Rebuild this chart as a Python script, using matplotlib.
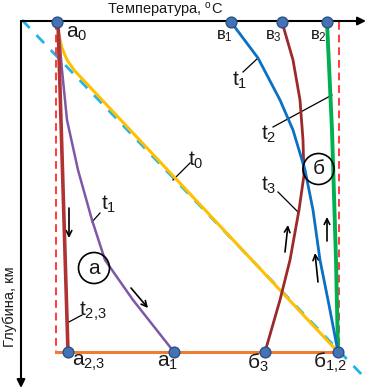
import matplotlib
matplotlib.use("Agg")
import matplotlib.pyplot as plt
from matplotlib.patches import Circle

plt.rcParams['font.family'] = ['Liberation Sans', 'DejaVu Sans']
plt.rcParams['mathtext.fontset'] = 'custom'
plt.rcParams['mathtext.rm'] = 'Liberation Sans'
plt.rcParams['mathtext.it'] = 'Liberation Sans'

# Schematic coordinates: temperature position (x), depth position (y, grows downward)
t0_x = [57, 59, 62, 67, 74, 338]
t0_y = [22, 35, 48, 60, 70, 352]
t23_left_x = [58, 68]
t23_left_y = [22, 352]
t1_left_x = [58, 62, 67, 78, 92, 105, 133, 174]
t1_left_y = [22, 70, 120, 170, 220, 260, 300, 352]
t1_right_x = [231, 258, 280, 293, 305, 313, 320, 329, 338]
t1_right_y = [22, 58, 100, 130, 170, 210, 260, 305, 352]
t3_right_x = [282, 293, 300, 303, 304, 299, 290, 280, 265]
t3_right_y = [22, 60, 100, 140, 175, 210, 260, 300, 352]
t2_right_x = [327, 332, 336, 338]
t2_right_y = [22, 130, 260, 352]
bottom_x = [56, 338]
bottom_y = [352, 352]
geotherm_x = [22, 365]
geotherm_y = [20, 378]

top_pts_x = [57, 231, 282, 327]
bot_pts_x = [68, 174, 265, 338]
top_y = 22
bot_y = 352

fig = plt.figure(figsize=(3.73, 3.92), dpi=100)
ax = fig.add_axes([0, 0, 1, 1])
ax.set_xlim(0, 373)
ax.set_ylim(392, 0)
ax.axis('off')

txt = '#1a1a1a'

# axes arrows
ax.annotate('', xy=(366, 21), xytext=(21, 21),
            arrowprops=dict(arrowstyle='-|>', lw=1.5, color='black', mutation_scale=12, shrinkA=0, shrinkB=0))
ax.annotate('', xy=(21, 388), xytext=(21, 21),
            arrowprops=dict(arrowstyle='-|>', lw=1.5, color='black', mutation_scale=12, shrinkA=0, shrinkB=0))
ax.text(165, 10, 'Температура, $^{\\mathregular{o}}$C', fontsize=10.5, color=txt, ha='center', va='center')
ax.text(10, 307, 'Глубина, км', fontsize=10.5, color=txt, ha='center', va='center', rotation=90)

# dashed reference lines
ax.plot(geotherm_x, geotherm_y, color='#1fb4ec', lw=2, ls=(0, (4, 3.5)), zorder=2)
ax.plot([56, 56], [22, 352], color='#ff3b3b', lw=1.4, ls=(0, (4, 2.5)), zorder=2)
ax.plot([339, 339], [22, 352], color='#ff3b3b', lw=1.4, ls=(0, (4, 2.5)), zorder=2)

# curves
ax.plot(bottom_x, bottom_y, color='#ed7d31', lw=2.2, zorder=3)
ax.plot(t0_x, t0_y, color='#ffc000', lw=2.2, zorder=3, solid_joinstyle='round')
ax.plot(t1_left_x, t1_left_y, color='#7e58a6', lw=1.8, zorder=3)
ax.plot(t23_left_x, t23_left_y, color='#b03232', lw=2.6, zorder=4)
ax.plot(t2_right_x, t2_right_y, color='#00b050', lw=2.8, zorder=3)
ax.plot(t1_right_x, t1_right_y, color='#0a70c4', lw=2, zorder=4)
ax.plot(t3_right_x, t3_right_y, color='#9c2a2a', lw=2, zorder=3)

# points
ax.scatter(top_pts_x, [top_y] * 4, s=60, color='#4473b5', edgecolor='#2c4f86', lw=1, zorder=6)
ax.scatter(bot_pts_x, [bot_y] * 4, s=60, color='#4473b5', edgecolor='#2c4f86', lw=1, zorder=6)

# point labels
big = 15
small = 12
ax.text(66, 33, 'а$_{0}$', fontsize=big, color=txt, ha='left', va='center')
ax.text(72, 363, 'а$_{2{,}3}$', fontsize=big, color=txt, ha='left', va='center')
ax.text(157, 363, 'а$_{1}$', fontsize=big, color=txt, ha='left', va='center')
ax.text(247, 363, 'б$_{3}$', fontsize=big, color=txt, ha='left', va='center')
ax.text(313, 363, 'б$_{1{,}2}$', fontsize=big, color=txt, ha='left', va='center')
ax.text(216, 36, 'в$_{1}$', fontsize=small, color=txt, ha='left', va='center')
ax.text(265, 36, 'в$_{3}$', fontsize=small, color=txt, ha='left', va='center')
ax.text(310, 36, 'в$_{2}$', fontsize=small, color=txt, ha='left', va='center')

# curve labels with leaders
ax.text(232, 80, 't$_{1}$', fontsize=big, color=txt, ha='left', va='center')
ax.plot([243, 258], [72, 58], color='black', lw=0.9)
ax.text(261, 134, 't$_{2}$', fontsize=big, color=txt, ha='left', va='center')
ax.plot([273, 332], [127, 95], color='black', lw=0.9)
ax.text(261, 185, 't$_{3}$', fontsize=big, color=txt, ha='left', va='center')
ax.plot([278, 298], [192, 212], color='black', lw=0.9)
ax.text(188, 160, 't$_{0}$', fontsize=big, color=txt, ha='left', va='center')
ax.plot([190, 173], [163, 180], color='black', lw=0.9)
ax.text(101, 204, 't$_{1}$', fontsize=big, color=txt, ha='left', va='center')
ax.plot([100, 92], [213, 222], color='black', lw=0.9)
ax.text(79, 311, 't$_{2{,}3}$', fontsize=big, color=txt, ha='left', va='center')
ax.plot([82, 67], [315, 323], color='black', lw=0.9)

# circled zone labels
ax.add_patch(Circle((94, 268), 15.5, fill=False, lw=1.2, color='black', zorder=5))
ax.text(94, 268, 'а', fontsize=big, color=txt, ha='center', va='center', zorder=6)
ax.add_patch(Circle((318.5, 169), 15.5, fill=False, lw=1.2, color='black', zorder=5))
ax.text(318.5, 168, 'б', fontsize=big, color=txt, ha='center', va='center', zorder=6)

# direction arrows
arrows = [((69, 208), (69, 238)), ((131, 288), (148, 308)),
          ((285, 252), (288, 225)), ((327, 241), (327, 217)), ((318, 282), (315, 253))]
for tail, head in arrows:
    ax.annotate('', xy=head, xytext=tail,
                arrowprops=dict(arrowstyle='->', lw=1.2, color='black', mutation_scale=10, shrinkA=0, shrinkB=0))

fig.savefig('out.png', dpi=100)
